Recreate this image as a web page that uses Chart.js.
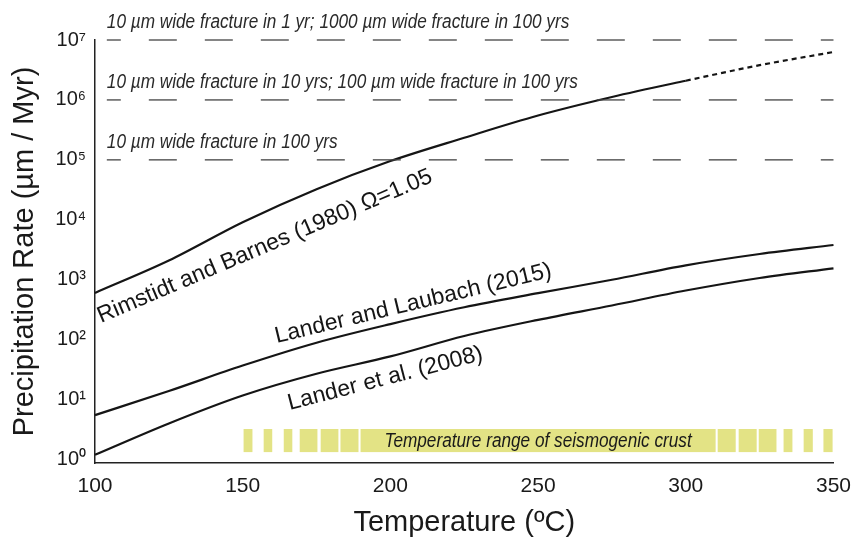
<!DOCTYPE html>
<html>
<head>
<meta charset="utf-8">
<script src="https://cdn.jsdelivr.net/npm/chart.js@4"></script>
<style>
  body { margin: 0; background: #fff; }
  #wrap { width: 862px; height: 541px; }
</style>
</head>
<body>
<div id="wrap"><canvas id="canvas"></canvas></div>
<script>
// temperature (ºC) and precipitation rates (µm / Myr)
const temps = [100, 125, 150, 175, 200, 225, 250, 275, 300, 325, 350];
const rimstidt = [603, 2090, 9100, 32400, 95500, 234000, 550000, 1120000, 2090000, 3800000, 6300000];
const landerLaubach = [5.5, 13.9, 37, 89, 182, 347, 596, 1000, 1740, 2690, 3800];
const lander2008 = [1.2, 4.0, 11.7, 27, 52.5, 115, 214, 372, 660, 1070, 1550];

// horizontal reference rates
const refRates = [1e7, 1e6, 1e5];
const refLabels = [
  '10 µm wide fracture in 1 yr; 1000 µm wide fracture in 100 yrs',
  '10 µm wide fracture in 10 yrs; 100 µm wide fracture in 100 yrs',
  '10 µm wide fracture in 100 yrs'
];
const refStartT = 104;

// seismogenic crust temperature band
const bandStarts = [150.3, 157.1, 163.9, 169.3, 176.4, 183.1, 189.9, 310.8, 317.9, 324.7, 333.1, 339.9, 346.6];
const bandEnds   = [153.3, 160.0, 166.8, 175.3, 182.4, 189.2, 310.1, 316.9, 324.0, 330.7, 336.1, 343.0, 349.7];
const bandLow = 1.33, bandHigh = 3.23;
const bandLabel = 'Temperature range of seismogenic crust';

const yTicks = [1, 10, 100, 1000, 1e4, 1e5, 1e6, 1e7];
const yTickLabels = ['10⁰', '10¹', '10²', '10³', '10⁴', '10⁵', '10⁶', '10⁷'];

const FONT = '"Liberation Sans", Arial, sans-serif';

const pts = (vals) => temps.map((t, i) => ({x: t, y: vals[i]}));

const refSets = refRates.map(r => ({
  data: [{x: refStartT, y: r}, {x: 350, y: r}],
  borderColor: '#444',
  borderWidth: 1.3,
  borderDash: [28, 28],
  borderDashOffset: 14,
  pointRadius: 0,
  clip: false
}));

const curve = (vals) => ({
  data: pts(vals),
  borderColor: '#151515',
  borderWidth: 2.2,
  pointRadius: 0,
  cubicInterpolationMode: 'monotone',
  clip: false
});

const rimSet = curve(rimstidt);
rimSet.segment = {
  borderDash: c => c.p0.parsed.x >= 300 ? [5, 4] : undefined
};

const overlay = {
  id: 'overlay',
  beforeDatasetsDraw(chart) {
    const {ctx, scales: {x, y}} = chart;
    ctx.save();
    ctx.fillStyle = '#e3e385';
    const top = y.getPixelForValue(bandHigh);
    const bot = y.getPixelForValue(bandLow);
    for (let i = 0; i < bandStarts.length; i++) {
      const a = x.getPixelForValue(bandStarts[i]);
      const b = x.getPixelForValue(bandEnds[i]);
      ctx.fillRect(a, top, b - a, bot - top);
    }
    ctx.restore();
  },
  afterDatasetsDraw(chart) {
    const {ctx, scales: {x, y}} = chart;

    function narrow(text, px, py, align) {
      ctx.save();
      ctx.translate(px, py);
      ctx.scale(0.86, 1);
      ctx.textAlign = align;
      ctx.textBaseline = 'alphabetic';
      ctx.fillText(text, 0, 0);
      ctx.restore();
    }

    ctx.save();
    ctx.font = 'italic 20px ' + FONT;
    ctx.fillStyle = '#2a2a2a';
    refRates.forEach((r, i) => {
      narrow(refLabels[i], x.getPixelForValue(refStartT), y.getPixelForValue(r) - 12, 'left');
    });
    ctx.fillStyle = '#1a1a1a';
    narrow(bandLabel, x.getPixelForValue(250), y.getPixelForValue(bandLow) - 5, 'center');
    ctx.restore();

    // curve labels
    const labels = [
      {text: 'Rimstidt and Barnes (1980) Ω=1.05', t: 102, v: 190, ang: -23},
      {text: 'Lander and Laubach (2015)', t: 161.5, v: 88, ang: -13.5},
      {text: 'Lander et al. (2008)', t: 165.9, v: 6.7, ang: -14.5}
    ];
    ctx.save();
    ctx.font = '23px ' + FONT;
    ctx.fillStyle = '#151515';
    labels.forEach(l => {
      ctx.save();
      ctx.translate(x.getPixelForValue(l.t), y.getPixelForValue(l.v));
      ctx.rotate(l.ang * Math.PI / 180);
      ctx.textAlign = 'left';
      ctx.textBaseline = 'alphabetic';
      ctx.fillText(l.text, 0, 0);
      ctx.restore();
    });
    ctx.restore();
  }
};

new Chart(document.getElementById('canvas'), {
  type: 'line',
  data: {
    datasets: [...refSets, rimSet, curve(landerLaubach), curve(lander2008)]
  },
  options: {
    responsive: true,
    maintainAspectRatio: false,
    animation: false,
    layout: { padding: { top: 40, right: 27, left: 0, bottom: 0 } },
    plugins: {
      legend: { display: false },
      tooltip: { enabled: false }
    },
    scales: {
      x: {
        type: 'linear',
        min: 100,
        max: 350,
        grid: { display: false, drawTicks: false },
        border: { display: true, color: '#222', width: 1.5 },
        ticks: {
          stepSize: 50,
          padding: 11,
          color: '#1a1a1a',
          font: { family: FONT, size: 21 }
        },
        title: {
          display: true,
          text: 'Temperature (ºC)',
          color: '#1a1a1a',
          font: { family: FONT, size: 29 },
          padding: { top: 0, bottom: 1 }
        },
        afterFit(scale) { scale.height = 78; }
      },
      y: {
        type: 'logarithmic',
        min: 0.875,
        max: 1e7,
        grid: { display: false, drawTicks: false },
        border: { display: true, color: '#222', width: 1.5 },
        afterBuildTicks(scale) {
          scale.ticks = yTicks.map(v => ({value: v}));
        },
        ticks: {
          padding: 9,
          color: '#1a1a1a',
          font: { family: FONT, size: 20 },
          callback: (v) => yTickLabels[yTicks.indexOf(v)]
        },
        title: {
          display: true,
          text: 'Precipitation Rate (µm / Myr)',
          color: '#1a1a1a',
          font: { family: FONT, size: 29 },
          padding: { top: 8, bottom: 0 }
        },
        afterFit(scale) { scale.width = 95; }
      }
    }
  },
  plugins: [overlay]
});
</script>
</body>
</html>
